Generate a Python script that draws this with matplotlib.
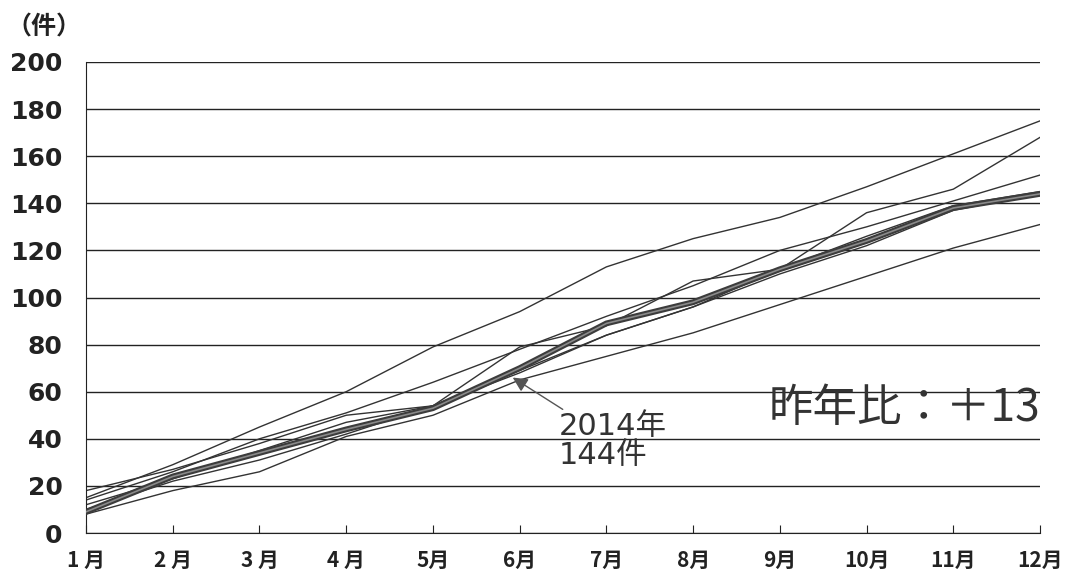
import numpy as np
import matplotlib
matplotlib.use('Agg')
import matplotlib.pyplot as plt

plt.rcParams['font.family'] = ['Noto Sans CJK JP', 'DejaVu Sans']

months = np.arange(1, 13)
month_labels = ['1 月', '2 月', '3 月', '4 月', '5月', '6月', '7月', '8月', '9月', '10月', '11月', '12月']

# past years (thin lines), cumulative counts per month
past_a = [15, 29, 45, 60, 79, 94, 113, 125, 134, 147, 161, 175]
past_b = [12, 23, 35, 47, 54, 69, 84, 96, 112, 136, 146, 168]
past_c = [14, 26, 40, 51, 64, 78, 92, 105, 120, 130, 141, 152]
past_d = [18, 27, 38, 50, 54, 79, 88, 107, 112, 126, 139, 145]
past_e = [8, 18, 26, 41, 50, 65, 75, 85, 97, 109, 121, 131]
past_f = [10, 22, 31, 42, 54, 68, 84, 96, 110, 122, 137, 144]
past_years = [past_a, past_b, past_c, past_d, past_e, past_f]

# 2014 (thick line)
y2014 = [9, 24, 34, 44, 53, 70, 89, 98, 112, 124, 138, 144]

fig = plt.figure(figsize=(10.7, 5.73), dpi=100)
ax = fig.add_axes([0.0804, 0.0698, 0.8916, 0.822])

for s in past_years:
    ax.plot(months, s, color='#333333', lw=1.0, zorder=2)
ax.plot(months, y2014, color='#3c3c3c', lw=4.2, zorder=3)
ax.plot(months, y2014, color='#8a8a8a', lw=1.2, zorder=4)

ax.set_xlim(1, 12)
ax.set_ylim(0, 200)
ax.set_yticks(range(0, 201, 20))
ax.set_xticks(months)
ax.set_xticklabels(month_labels)
ax.yaxis.grid(True, color='#222222', lw=1.0)
ax.set_axisbelow(True)
for side in ['top', 'right']:
    ax.spines[side].set_visible(False)
ax.spines['left'].set_color('#222222')
ax.spines['bottom'].set_color('#222222')
ax.tick_params(axis='x', direction='in', length=6, pad=12, labelsize=15, colors='#222222')
ax.tick_params(axis='y', length=0, pad=17, colors='#222222')
for lab in ax.get_xticklabels():
    lab.set_fontweight('bold')
for lab in ax.get_yticklabels():
    lab.set_fontweight('bold')
    lab.set_fontsize(18)
    lab.set_family(['DejaVu Sans'])

fig.text(0.006, 0.952, '（件）', fontsize=18, fontweight='bold', color='#222222', va='center')

ax.annotate('2014年\n144件', xy=(5.92, 66), xytext=(6.45, 39),
            fontsize=22, color='#333333', va='center', ha='left', linespacing=1.0,
            family=['DejaVu Sans', 'Noto Sans CJK JP'],
            arrowprops=dict(arrowstyle='-|>', color='#555555', lw=1.0, shrinkA=0, shrinkB=0))

ax.text(12.0, 53, '昨年比：＋13', fontsize=32, color='#333333',
        ha='right', va='center', family=['Noto Sans CJK JP', 'DejaVu Sans'])

fig.savefig('out.png', dpi=100)
